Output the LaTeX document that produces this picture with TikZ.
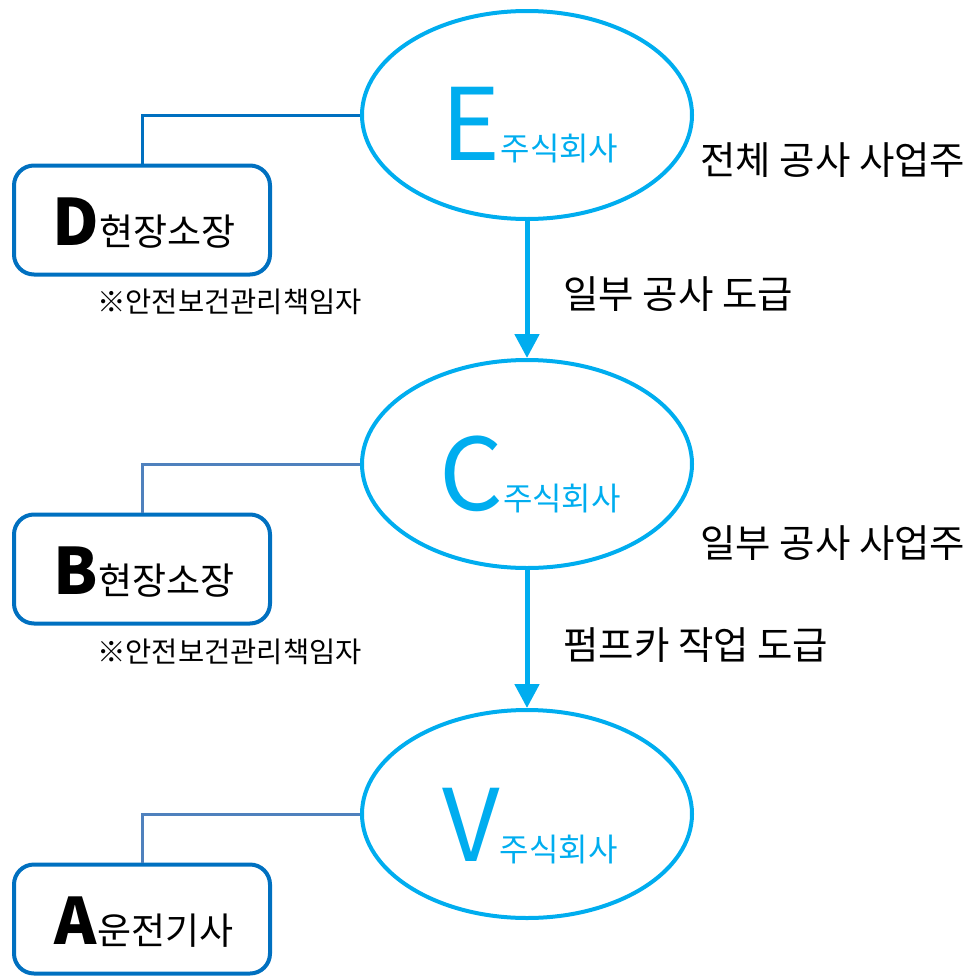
\documentclass[tikz,border=0pt]{standalone}
\usepackage{fontspec}
\setmainfont{Noto Sans CJK KR}
\usetikzlibrary{shapes.geometric,arrows.meta}
\definecolor{cyanline}{HTML}{00ADEF}
\definecolor{boxblue}{HTML}{0070C0}
\definecolor{steel}{HTML}{4F81BD}
\tikzset{
  company/.style={ellipse,draw=cyanline,line width=4pt,minimum width=330pt,minimum height=208pt,inner sep=0pt},
  person/.style={draw=boxblue,line width=4pt,rounded corners=20pt,minimum width=256pt,minimum height=109pt,inner sep=0pt},
  flow/.style={draw=cyanline,line width=5pt,-{Triangle[width=24pt,length=24pt]}},
  link/.style={line width=3pt},
  side/.style={anchor=base west,inner sep=0pt,font=\fontsize{38.5}{38.5}\selectfont},
  note/.style={anchor=base west,inner sep=0pt,font=\fontsize{28.5}{28.5}\selectfont},
}
\newcommand{\complabel}[1]{{\fontsize{100}{100}\selectfont #1}{\fontsize{32}{32}\selectfont 주식회사}}
\newcommand{\perslabel}[2]{{\fontsize{64}{64}\selectfont\bfseries #1}{\fontsize{37}{37}\selectfont #2}}
\begin{document}
\begin{tikzpicture}[x=1pt,y=-1pt]
\useasboundingbox (0,0) rectangle (969,977);
% companies
\node[company] (E) at (527,115) {};
\node[company] (C) at (527,464) {};
\node[company] (V) at (527,814) {};
\node[anchor=base,inner sep=0pt,text=cyanline] (Elab) at (530,160) {\complabel{E}};
\node[anchor=base,inner sep=0pt,text=cyanline] (Clab) at (530,510) {\complabel{C}};
\node[anchor=base,inner sep=0pt,text=cyanline] (Vlab) at (530,861) {\complabel{V}};
% persons
\node[person] (D) at (142,220) {};
\node[person] (B) at (142,569) {};
\node[person] (A) at (142,919) {};
\node[anchor=base,inner sep=0pt] (Dlab) at (144,245) {\perslabel{D}{현장소장}};
\node[anchor=base,inner sep=0pt] (Blab) at (144,594) {\perslabel{B}{현장소장}};
\node[anchor=base,inner sep=0pt] (Alab) at (144,944) {\perslabel{A}{운전기사}};
\node[note] (Dnote) at (97,312) {※안전보건관리책임자};
\node[note] (Bnote) at (97,662) {※안전보건관리책임자};
% links
\draw[link,boxblue] (E.west) -| (D.north);
\draw[link,steel] (C.west) -| (B.north);
\draw[link,steel] (V.west) -| (A.north);
% flows
\draw[flow] (E.south) -- (C.north);
\draw[flow] (C.south) -- (V.north);
% side texts
\node[side] (t1) at (700,174) {전체 공사 사업주};
\node[side] (t2) at (563,308) {일부 공사 도급};
\node[side] (t3) at (700,557) {일부 공사 사업주};
\node[side] (t4) at (563,659) {펌프카 작업 도급};
\end{tikzpicture}
\end{document}
